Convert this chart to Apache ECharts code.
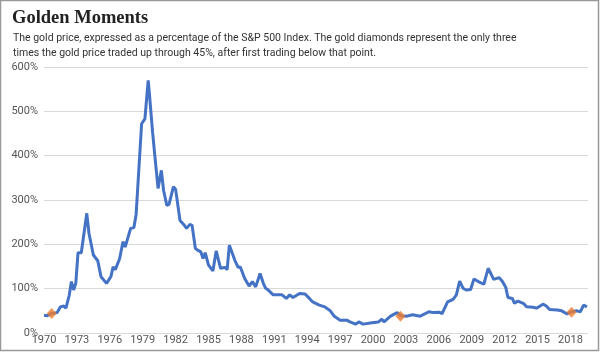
<!DOCTYPE html>
<html>
<head>
<meta charset="utf-8">
<script src="https://cdn.jsdelivr.net/npm/echarts@6/dist/echarts.min.js"></script>
<style>
  html, body { margin: 0; padding: 0; background: #fff; }
  #chart { width: 600px; height: 352px; }
</style>
</head>
<body>
<div id="chart"></div>
<script>
const titleText = 'Golden Moments';
const subtitleText = 'The gold price, expressed as a percentage of the S&P 500 Index. The gold diamonds represent the only three\ntimes the gold price traded up through 45%, after first trading below that point.';

// gold price as % of S&P 500, by (fractional) year
const years = [
  1970.0, 1970.3, 1970.7, 1971.2, 1971.5, 1971.8, 1972.0, 1972.3, 1972.5, 1972.7, 1972.9,
  1973.1, 1973.4, 1973.9, 1974.1, 1974.5, 1974.9, 1975.2, 1975.7, 1976.1, 1976.3, 1976.5,
  1976.9, 1977.2, 1977.4, 1977.9, 1978.2, 1978.4, 1978.9, 1979.2, 1979.5, 1979.6, 1979.9,
  1980.1, 1980.4, 1980.7, 1980.9, 1981.2, 1981.4, 1981.8, 1982.0, 1982.4, 1982.8, 1983.0,
  1983.3, 1983.5, 1983.8, 1984.0, 1984.3, 1984.5, 1984.7, 1985.0, 1985.4, 1985.7, 1986.1,
  1986.5, 1986.7, 1986.9, 1987.4, 1987.7, 1987.9, 1988.3, 1988.7, 1989.0, 1989.3, 1989.7,
  1990.0, 1990.2, 1990.4, 1990.9, 1991.7, 1992.1, 1992.4, 1992.7, 1993.3, 1993.8, 1994.2,
  1994.5, 1995.1, 1995.6, 1996.1, 1996.5, 1997.0, 1997.6, 1997.9, 1998.4, 1998.7, 1999.1,
  1999.9, 2000.5, 2000.8, 2001.0, 2001.6, 2002.2, 2002.5, 2003.1, 2003.6, 2004.3, 2005.1,
  2005.5, 2006.0, 2006.3, 2006.8, 2007.3, 2007.6, 2007.9, 2008.2, 2008.5, 2008.9, 2009.2,
  2009.6, 2010.1, 2010.5, 2011.0, 2011.5, 2011.8, 2012.1, 2012.3, 2012.7, 2012.9, 2013.2,
  2013.7, 2014.0, 2014.6, 2014.9, 2015.5, 2015.8, 2016.1, 2016.8, 2017.2, 2017.7, 2018.1,
  2018.6, 2018.9, 2019.2, 2019.5
];
const goldPct = [
  40, 39, 44, 46, 59, 61, 56, 85, 116, 97, 112,
  181, 181, 270, 225, 176, 163, 127, 112, 127, 149, 143,
  168, 206, 194, 236, 238, 268, 472, 483, 570, 543, 453,
  401, 326, 367, 322, 288, 290, 330, 324, 254, 243, 236,
  245, 243, 191, 187, 183, 168, 181, 153, 140, 185, 146,
  148, 143, 198, 164, 148, 149, 123, 106, 116, 104, 134,
  112, 101, 98, 86, 86, 78, 86, 80, 89, 88, 78,
  70, 63, 59, 50, 37, 29, 29, 25, 20, 25, 20,
  23, 25, 31, 25, 38, 46, 39, 38, 41, 38, 48,
  46, 47, 44, 70, 76, 86, 117, 101, 97, 98, 122,
  116, 110, 146, 121, 125, 116, 103, 80, 78, 67, 72,
  67, 59, 58, 56, 65, 61, 53, 52, 50, 43, 48,
  50, 48, 63, 59
];

// the three "traded up through 45%" moments
const diamondYears = [1970.7, 2002.5, 2018.1];
const diamondPct = [44, 38, 47];

const chart = echarts.init(document.getElementById('chart'));

chart.setOption({
  animation: false,
  backgroundColor: '#fff',
  title: [
    {
      text: titleText,
      left: 7, top: 4,
      textStyle: { fontFamily: 'Liberation Serif', fontWeight: 'bold', fontSize: 18.5, color: '#222' }
    },
    {
      text: subtitleText,
      left: 8, top: 26,
      textStyle: { fontFamily: 'Roboto', fontWeight: 'normal', fontSize: 10.5, lineHeight: 15, color: '#333' }
    }
  ],
  graphic: [{
    type: 'rect',
    shape: { x: 0.5, y: 0.5, width: 598, height: 350 },
    style: { fill: 'none', stroke: '#999', lineWidth: 1.5 },
    silent: true
  }],
  grid: { left: 44, right: 12, top: 67, bottom: 19 },
  xAxis: {
    type: 'value',
    min: 1970, max: 2019.6, interval: 3,
    axisLine: { show: false },
    axisTick: { show: false },
    splitLine: { show: false },
    axisLabel: {
      formatter: v => String(v),
      fontFamily: 'Roboto', fontSize: 11, color: '#555', margin: 2,
      showMaxLabel: false
    }
  },
  yAxis: {
    type: 'value',
    min: 0, max: 600, interval: 100,
    axisLine: { show: false },
    axisTick: { show: false },
    splitLine: { lineStyle: { color: '#d9d9d9', width: 1 } },
    axisLabel: {
      formatter: '{value}%',
      fontFamily: 'Roboto', fontSize: 11, color: '#555', margin: 6
    }
  },
  series: [
    {
      type: 'line',
      data: years.map((y, i) => [y, goldPct[i]]),
      showSymbol: false,
      lineStyle: { color: '#4472C4', width: 3 },
      z: 2
    },
    {
      type: 'scatter',
      data: diamondYears.map((y, i) => [y, diamondPct[i]]),
      symbol: 'diamond',
      symbolSize: [10, 11],
      itemStyle: { color: '#ED7D31' },
      z: 3
    }
  ]
});
</script>
</body>
</html>
